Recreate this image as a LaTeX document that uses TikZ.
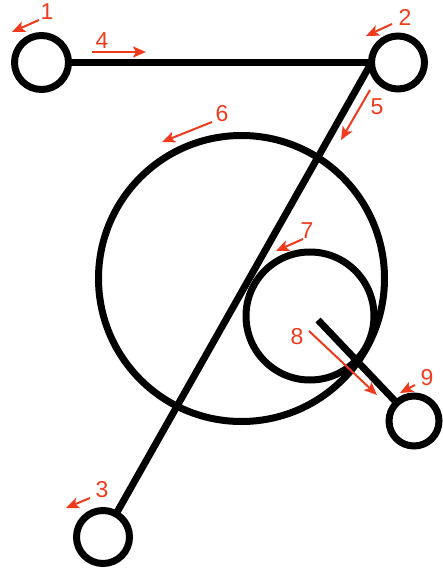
\documentclass[tikz,border=0pt]{standalone}
\usepackage{fontspec}
\setmainfont{Liberation Sans}
\usetikzlibrary{arrows.meta}
\definecolor{annred}{RGB}{240,58,30}
\tikzset{
  ring/.style={circle,draw=black,line width=7pt,inner sep=0pt,outer sep=0pt},
  bar/.style={draw=black,line width=7pt},
  ann/.style={draw=annred,line width=2pt,-{Stealth[length=13pt,width=11pt,inset=3pt]}},
  num/.style={text=annred,font=\fontsize{23pt}{23pt}\selectfont,inner sep=0pt}
}
\begin{document}
\begin{tikzpicture}[x=1pt,y=-1pt]
\useasboundingbox (0,0) rectangle (443,572);
% circles
\node[ring,minimum size=54pt] (c1) at (41.5,62.5) {};
\node[ring,minimum size=53pt] (c2) at (398,62.5) {};
\node[ring,minimum size=53pt] (c3) at (103,537) {};
\node[ring,minimum size=50pt] (c9) at (414,421) {};
\node[ring,minimum size=286pt] (big) at (241.5,278.5) {};
\node[ring,minimum size=128pt] (small) at (310,316) {};
\coordinate (s) at (318,320);
% bars
\draw[bar] (c1) -- (c2);
\draw[bar] (c2.west) -- (c3);
\draw[bar] (s) -- (c9);
% annotations
\node[num] (n1) at (47,12) {1};
\draw[ann] (39,20) -- (12,32);
\node[num] (n4) at (102,41) {4};
\draw[ann] (92,52) -- (146,52);
\node[num] (n2) at (405,17) {2};
\draw[ann] (392,24) -- (366,36);
\node[num] (n5) at (377,107) {5};
\draw[ann] (370,90) -- (341,140);
\node[num] (n6) at (222,114) {6};
\draw[ann] (212,122) -- (162,142);
\node[num] (n7) at (307,231) {7};
\draw[ann] (303,239) -- (276,251);
\node[num] (n8) at (297,337) {8};
\draw[ann] (309,331) -- (377,395);
\node[num] (n9) at (427,378) {9};
\draw[ann] (415,385) -- (400,393);
\node[num] (n3) at (102,490) {3};
\draw[ann] (90,498) -- (66,508);
\end{tikzpicture}
\end{document}
